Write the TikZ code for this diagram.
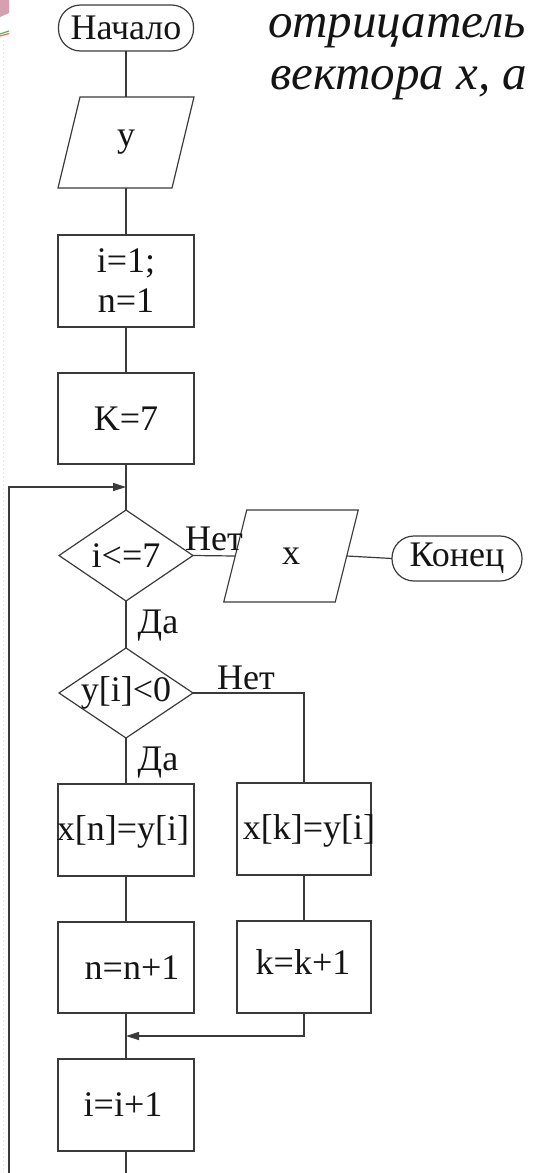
\documentclass[tikz,border=0pt]{standalone}
\usepackage{fontspec}
\setmainfont{Liberation Serif}
\usetikzlibrary{calc,arrows.meta}
\definecolor{ln}{HTML}{3A3A3A}
\definecolor{tx}{HTML}{141414}
\definecolor{pinkbg}{RGB}{214,160,176}
\begin{document}
\begin{tikzpicture}[x=1pt,y=-1pt,
  every node/.style={font=\fontsize{36}{40}\selectfont, text=tx, inner sep=0pt, outer sep=0pt},
  line/.style={draw=ln, line width=1.2pt},
  arr/.style={line, -{Triangle[length=13pt,width=8pt]}},
  proc/.style={rectangle, draw=ln, line width=1.2pt, minimum width=136pt, minimum height=92pt},
  term/.style={rectangle, draw=ln, line width=1.2pt, rounded corners=22pt, minimum height=45pt},
  anch/.style={rectangle, draw=none},
  lbl/.style={font=\fontsize{36}{40}\selectfont},
  head/.style={anchor=base west, font=\fontsize{49}{54}\selectfont\itshape, text height=23pt, text depth=11pt}
]
\useasboundingbox (0,0) rectangle (535,1173);
% slide background artefacts
\fill[pinkbg] (0,0) -- (9,0) -- (9,13) -- (0,17) -- cycle;
\draw[green!60!black!70, line width=1.2pt] (0,34) -- (9,31);
\draw[red!60, line width=1.2pt] (0,36) -- (9,33.5);
\draw[gray!18, line width=1pt, dash pattern=on 2pt off 2pt] (3,40) -- (3,1173);

% header text
\node[head] (h1) at (268,37) {отрицатель};
\node[head] (h2) at (270,89) {вектора x, а};

% nodes
\node[term, minimum width=135pt, minimum height=46pt] (start) at (126,28) {Начало};
\node[anch, minimum width=114pt, minimum height=91pt] (inp) at (126,142.5) {y};
\draw[line] ($(inp.north west)+(11,0)$) -- ($(inp.north east)+(11,0)$) -- ($(inp.south east)+(-11,0)$) -- ($(inp.south west)+(-11,0)$) -- cycle;
\node[proc, align=center] (init) at (126,281) {i=1;\\n=1};
\node[proc, minimum height=91pt] (k7) at (126,418.5) {K=7};
\coordinate (join1) at (126,487);
\node[anch, minimum width=134pt, minimum height=91pt] (dec1) at (126,555.5) {i<=7};
\draw[line] (dec1.north) -- (dec1.east) -- (dec1.south) -- (dec1.west) -- cycle;
\node[anch, minimum width=111.5pt, minimum height=92pt] (out) at (291,556) {x};
\draw[line] ($(out.north west)+(11.5,0)$) -- ($(out.north east)+(11.5,0)$) -- ($(out.south east)+(-11.5,0)$) -- ($(out.south west)+(-11.5,0)$) -- cycle;
\node[term, minimum width=130pt] (fin) at (457,558.5) {Конец};
\node[anch, minimum width=134pt, minimum height=90pt] (dec2) at (126,693) {y[i]<0};
\draw[line] (dec2.north) -- (dec2.east) -- (dec2.south) -- (dec2.west) -- cycle;
\node[proc] (xn) at (126,830) {};
\node (xnt) at (123,832) {x[n]=y[i]};
\node[proc, minimum width=134pt] (xk) at (304,829) {};
\node (xkt) at (309,831) {x[k]=y[i]};
\node[proc, minimum height=91pt] (nn) at (126,967.5) {};
\node (nnt) at (132,968) {n=n+1};
\node[proc, minimum width=134pt] (kk) at (304,967) {};
\node (kkt) at (303,962) {k=k+1};
\coordinate (merge) at (126,1036);
\node[proc] (inc) at (126,1105) {};
\node (inct) at (123,1105) {i=i+1};
\coordinate (bot) at (126,1173);
\coordinate (botL) at (9,1173);

% labels
\node[lbl] (net1) at (214,539) {Нет};
\node[lbl] (da1) at (158,626) {Да};
\node[lbl] (net2) at (246,678) {Нет};
\node[lbl] (da2) at (158,763) {Да};

% connectors
\draw[line] (start.south) -- (inp.north);
\draw[line] (inp.south) -- (init.north);
\draw[line] (init.south) -- (k7.north);
\draw[line] (k7.south) -- (dec1.north);
\draw[line] (dec1.east) -- (out.west);
\draw[line] (out.east) -- (fin.west);
\draw[line] (dec1.south) -- (dec2.north);
\draw[line] (dec2.south) -- (xn.north);
\draw[line] (dec2.east) -| (xk.north);
\draw[line] (xn.south) -- (nn.north);
\draw[line] (xk.south) -- (kk.north);
\draw[line] (nn.south) -- (inc.north);
\draw[arr] (kk.south) |- (merge);
\draw[line] (inc.south) -- (bot);
\draw[arr] (botL) |- (join1);
\end{tikzpicture}
\end{document}
